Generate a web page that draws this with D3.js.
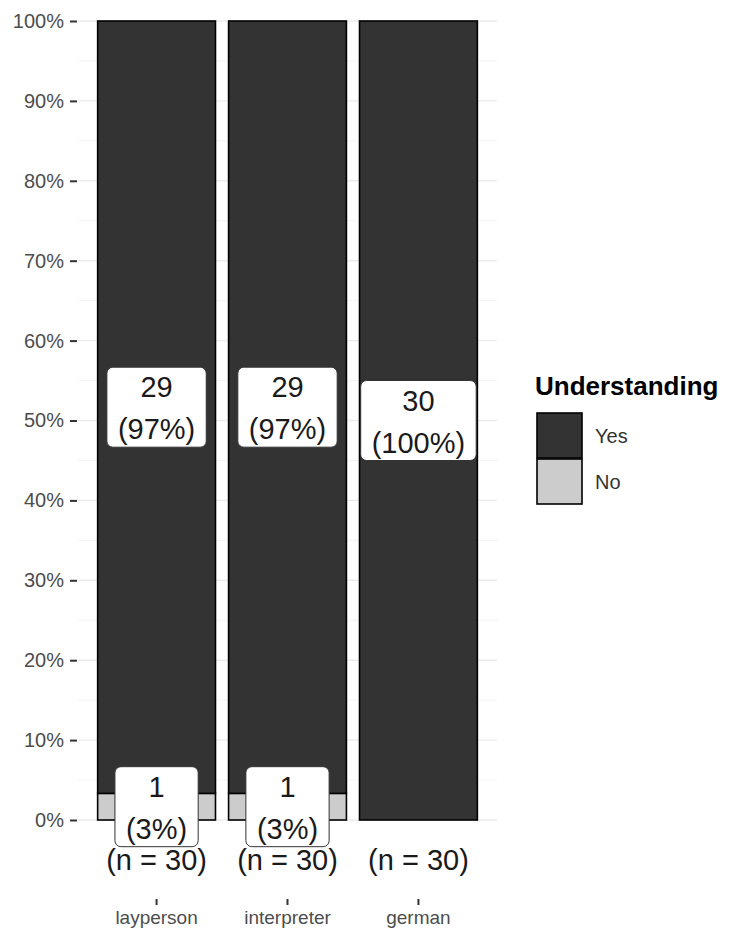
<!DOCTYPE html>
<html>
<head>
<meta charset="utf-8">
<script src="https://cdn.jsdelivr.net/npm/d3@7"></script>
<style>
  body { margin: 0; background: #fff; }
  text { font-family: "Liberation Sans", Arial, Helvetica, sans-serif; }
</style>
</head>
<body>
<script>
// datos del grafico
var categories = ["layperson", "interpreter", "german"];
var yesCounts = [29, 29, 30];
var noCounts = [1, 1, 0];
var totals = [30, 30, 30];
var keys = ["No", "Yes"];          // orden de apilado (No abajo)
var legendKeys = ["Yes", "No"];
var yTicks = [0, 0.1, 0.2, 0.3, 0.4, 0.5, 0.6, 0.7, 0.8, 0.9, 1];
var yMinor = [0.05, 0.15, 0.25, 0.35, 0.45, 0.55, 0.65, 0.75, 0.85, 0.95];

var w = 729, h = 935;
var colors = { Yes: "#333333", No: "#cccccc" };

var svg = d3.select("body").append("svg")
    .attr("width", w)
    .attr("height", h);

var x = d3.scaleBand()
    .domain(categories)
    .range([78, 497])
    .paddingInner(0.1)
    .paddingOuter(0.15);

var y = d3.scaleLinear()
    .domain([0, 1])
    .range([820, 21]);

// filas por categoria
var rows = categories.map(function(c, i) {
    return { cat: c, Yes: yesCounts[i] / totals[i], No: noCounts[i] / totals[i],
             nYes: yesCounts[i], nNo: noCounts[i], n: totals[i] };
});

// lineas de rejilla
svg.append("g").selectAll("line")
    .data(yMinor)
    .enter().append("line")
        .attr("x1", 78).attr("x2", 497)
        .attr("y1", function(d) { return y(d); })
        .attr("y2", function(d) { return y(d); })
        .attr("stroke", "#f0f0f0")
        .attr("stroke-width", 0.8);

svg.append("g").selectAll("line")
    .data(yTicks)
    .enter().append("line")
        .attr("x1", 78).attr("x2", 497)
        .attr("y1", function(d) { return y(d); })
        .attr("y2", function(d) { return y(d); })
        .attr("stroke", "#ebebeb")
        .attr("stroke-width", 1.4);

// eje y
var yAxis = svg.append("g")
    .attr("transform", "translate(77,0)")
    .call(d3.axisLeft(y).tickValues(yTicks).tickSize(7).tickPadding(6).tickFormat(d3.format(".0%")));
yAxis.select(".domain").remove();
yAxis.selectAll("line").attr("stroke", "#333").attr("stroke-width", 2);
yAxis.selectAll("text")
    .attr("fill", "#4d4d4d")
    .style("font-size", "20px")
    .style("font-family", "'Liberation Sans', Arial, sans-serif");

// eje x
var xAxis = svg.append("g")
    .attr("transform", "translate(0,899)")
    .call(d3.axisBottom(x).tickSize(6).tickPadding(6));
xAxis.select(".domain").remove();
xAxis.selectAll("line").attr("stroke", "#333").attr("stroke-width", 2);
xAxis.selectAll("text")
    .attr("fill", "#4d4d4d")
    .style("font-size", "19px")
    .style("font-family", "'Liberation Sans', Arial, sans-serif");

// barras apiladas
var series = d3.stack().keys(keys)(rows);

svg.append("g").selectAll("g")
    .data(series)
    .enter().append("g")
        .attr("fill", function(d) { return colors[d.key]; })
    .selectAll("rect")
    .data(function(d) { return d; })
    .enter().append("rect")
        .attr("x", function(d) { return x(d.data.cat); })
        .attr("y", function(d) { return y(d[1]); })
        .attr("width", x.bandwidth())
        .attr("height", function(d) { return y(d[0]) - y(d[1]); })
        .attr("stroke", "#000")
        .attr("stroke-width", 1.6);

// etiquetas con caja
var labels = [];
series.forEach(function(s) {
    s.forEach(function(d) {
        var cnt = s.key === "Yes" ? d.data.nYes : d.data.nNo;
        if (cnt > 0) {
            labels.push({
                cx: x(d.data.cat) + x.bandwidth() / 2,
                cy: y((d[0] + d[1]) / 2),
                l1: String(cnt),
                l2: "(" + Math.round(cnt / d.data.n * 100) + "%)"
            });
        }
    });
});

var lab = svg.append("g").selectAll("g")
    .data(labels)
    .enter().append("g")
        .attr("transform", function(d) { return "translate(" + d.cx + "," + d.cy + ")"; });

lab.append("rect")
    .attr("fill", "#fff")
    .attr("stroke", "#333")
    .attr("stroke-width", 1)
    .attr("rx", 6);

lab.append("text")
    .attr("text-anchor", "middle")
    .attr("dominant-baseline", "central")
    .attr("y", -20)
    .attr("fill", "#1a1a1a")
    .style("font-size", "29px")
    .text(function(d) { return d.l1; });

lab.append("text")
    .attr("class", "l2")
    .attr("text-anchor", "middle")
    .attr("dominant-baseline", "central")
    .attr("y", 22)
    .attr("fill", "#1a1a1a")
    .style("font-size", "29px")
    .text(function(d) { return d.l2; });

lab.each(function() {
    var g = d3.select(this);
    var tw = g.select("text.l2").node().getComputedTextLength();
    g.select("rect")
        .attr("x", -tw / 2 - 11)
        .attr("y", -40)
        .attr("width", tw + 22)
        .attr("height", 80);
});

// (n = 30)
svg.append("g").selectAll("text")
    .data(rows)
    .enter().append("text")
        .attr("x", function(d) { return x(d.cat) + x.bandwidth() / 2; })
        .attr("y", y(-0.05))
        .attr("text-anchor", "middle")
        .attr("dominant-baseline", "central")
        .attr("fill", "#1a1a1a")
        .style("font-size", "29px")
        .text(function(d) { return "(n = " + d.n + ")"; });

// leyenda
var legend = svg.append("g");
legend.append("text")
    .attr("x", 535)
    .attr("y", 395)
    .attr("fill", "#000")
    .style("font-size", "26px")
    .style("font-weight", "bold")
    .text("Understanding");

var item = legend.selectAll("g")
    .data(legendKeys)
    .enter().append("g")
        .attr("transform", function(d, i) { return "translate(537," + (413 + i * 46) + ")"; });

item.append("rect")
    .attr("width", 45)
    .attr("height", 45)
    .attr("fill", function(d) { return colors[d]; })
    .attr("stroke", "#000")
    .attr("stroke-width", 1.6);

item.append("text")
    .attr("x", 58)
    .attr("y", 23)
    .attr("dominant-baseline", "central")
    .attr("fill", "#333")
    .style("font-size", "20px")
    .text(function(d) { return d; });
</script>
</body>
</html>
